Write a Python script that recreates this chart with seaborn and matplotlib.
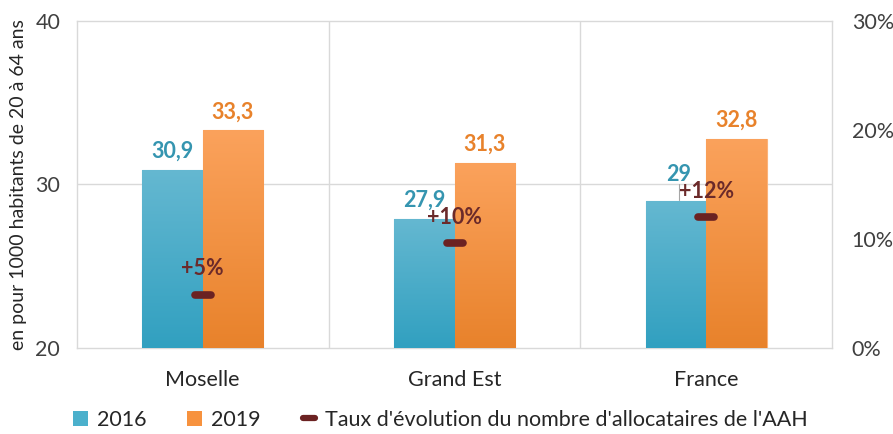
import numpy as np
import pandas as pd
import matplotlib
matplotlib.use("Agg")
import matplotlib.pyplot as plt
import seaborn as sns
from matplotlib.colors import LinearSegmentedColormap
from matplotlib.markers import MarkerStyle
from matplotlib.lines import Line2D
from matplotlib.patches import Patch

regions = ["Moselle", "Grand Est", "France"]
val_2016 = [30.9, 27.9, 29.0]
val_2019 = [33.3, 31.3, 32.8]
taux = [4.9, 9.6, 12.0]  # taux d'évolution, en %
labels_2016 = ["30,9", "27,9", "29"]
labels_2019 = ["33,3", "31,3", "32,8"]

df = pd.DataFrame({
    "region": regions * 2,
    "annee": ["2016"] * 3 + ["2019"] * 3,
    "valeur": val_2016 + val_2019,
})

sns.set_style("white")
plt.rcParams["font.family"] = ["Lato", "DejaVu Sans"]

fig = plt.figure(figsize=(8.93, 4.34), dpi=100)
ax = fig.add_axes([0.086, 0.198, 0.846, 0.754])

blue_cm = LinearSegmentedColormap.from_list("b", ["#65b8d1", "#31a0c0"])
orange_cm = LinearSegmentedColormap.from_list("o", ["#fba25c", "#e8822b"])

sns.barplot(data=df, x="region", y="valeur", hue="annee", order=regions,
            palette={"2016": "#4bb0cc", "2019": "#f7923e"}, width=0.48,
            ax=ax, legend=False, zorder=3)

# gradient fill on the bars
grad = np.linspace(0, 1, 256).reshape(-1, 1)
for i, p in enumerate(ax.patches[:6]):
    cmap = blue_cm if i < 3 else orange_cm
    x0, w = p.get_x(), p.get_width()
    top = p.get_y() + p.get_height()
    p.set_edgecolor("#7cc3d8" if i < 3 else "#fbb27a")
    p.set_linewidth(0.8)
    im = ax.imshow(grad, cmap=cmap, aspect="auto", extent=[x0, x0 + w, 20, top],
                   origin="upper", zorder=3.5)
    im.set_clip_path(p)

ax.set_ylim(20, 40)
ax.set_xlim(-0.5, 2.5)

fs = 15.5
# value labels
for i, (v, lab) in enumerate(zip(val_2016, labels_2016)):
    xc = i - 0.12
    if i == 2:
        ax.text(xc + 0.01, v + 0.95, lab, ha="center", va="bottom", color="#3595b0",
                fontsize=fs, fontweight="bold", zorder=6)
        ax.plot([xc + 0.01, xc + 0.01], [v + 0.05, v + 1.0], color="#a6a6a6", lw=0.8, zorder=6)
    else:
        ax.text(xc, v + 0.5, lab, ha="center", va="bottom", color="#3595b0",
                fontsize=fs, fontweight="bold", zorder=6)
for i, (v, lab) in enumerate(zip(val_2019, labels_2019)):
    ax.text(i + 0.12, v + 0.5, lab, ha="center", va="bottom", color="#e8822b",
            fontsize=fs, fontweight="bold", zorder=6)

# grid / frame
grid_c = "#d9d9d9"
ax.axhline(30, color=grid_c, lw=1, zorder=1)
for xb in [0.5, 1.5]:
    ax.axvline(xb, color=grid_c, lw=1, zorder=1)
for s in ax.spines.values():
    s.set_color(grid_c)
    s.set_linewidth(1)

ax.set_yticks([20, 30, 40])
ax.tick_params(axis="y", length=0, pad=12, labelsize=fs, labelcolor="#404040")
ax.tick_params(axis="x", length=0, pad=16, labelsize=fs, labelcolor="#262626")
ax.set_xlabel("")
ax.set_ylabel("en pour 1000 habitants de 20 à 64 ans", fontsize=14, color="#262626", labelpad=6)

# right axis: taux d'évolution
ax2 = ax.twinx()
ax2.set_ylim(0, 30)
ax2.set_yticks([0, 10, 20, 30])
ax2.set_yticklabels(["0%", "10%", "20%", "30%"])
ax2.tick_params(axis="y", length=0, pad=14, labelsize=fs, labelcolor="#404040")
for s in ax2.spines.values():
    s.set_visible(False)
dash = MarkerStyle("_", capstyle="round")
ax2.plot(range(len(regions)), taux, linestyle="none", marker=dash, markersize=11,
         markeredgewidth=5.5, color="#6b2222", zorder=7)
for i, t in enumerate(taux):
    ax2.text(i, t + 1.4, f"+{round(t)}%", ha="center", va="bottom", color="#6b2a2a",
             fontsize=fs, fontweight="bold", zorder=7)

handles = [
    Patch(facecolor="#4bb0cc", edgecolor="none"),
    Patch(facecolor="#f7923e", edgecolor="none"),
    Line2D([], [], color="#6b2222", marker=dash, linestyle="none", markersize=8, markeredgewidth=4.5),
]
fig.legend(handles, ["2016", "2019", "Taux d'évolution du nombre d'allocataires de l'AAH"],
           loc="lower center", bbox_to_anchor=(0.493, -0.035), ncol=3, frameon=False,
           fontsize=fs, handlelength=0.7, handleheight=0.7, columnspacing=1.9,
           handletextpad=0.4, labelcolor="#262626")

fig.savefig("out.png", dpi=100)
